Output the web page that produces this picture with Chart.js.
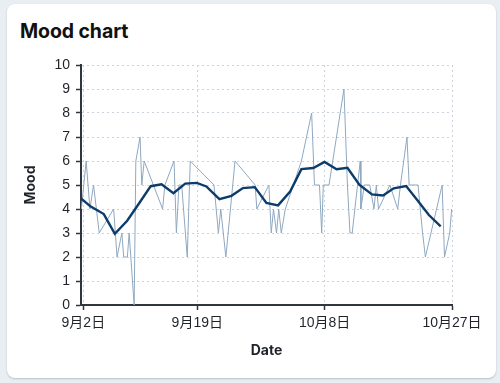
<!DOCTYPE html>
<html>
<head>
<meta charset="utf-8">
<script src="https://cdn.jsdelivr.net/npm/chart.js@4/dist/chart.umd.min.js"></script>
<style>
  html, body { margin: 0; padding: 0; width: 500px; height: 383px; overflow: hidden; background: #e9eef3; }
  .card { position: absolute; left: 7px; top: 4px; width: 489px; height: 374px; background: #fff; border-radius: 8px; box-shadow: 0 1px 2px rgba(60,70,90,0.28); }
  h1 { position: absolute; left: 20px; top: 21px; margin: 0; font: 700 19.5px/20px Inter, "Noto Sans", sans-serif; color: #111; letter-spacing: -0.1px; }
  canvas { position: absolute; left: 0; top: 0; }
</style>
</head>
<body>
<div class="card"></div>
<h1>Mood chart</h1>
<canvas id="c" width="500" height="383"></canvas>
<script>
// x values: days since 2 Sep (fractional = time of day)
const rawDays = [-0.30, 0.42, 0.98, 1.52, 2.37, 4.52, 5.03, 5.75, 6.02, 6.57, 6.83, 7.58, 7.83, 8.46, 8.72, 9.08,
  11.82, 12.17, 13.53, 13.88, 14.27, 14.67, 15.50, 15.95, 19.49, 20.15, 20.50, 21.26, 22.63, 25.63, 25.88,
  27.68, 28.03, 28.37, 28.82, 29.15, 29.53, 30.13, 32.53, 34.06, 34.48, 35.23, 35.56, 35.80, 36.65, 38.88,
  39.40, 39.78, 40.11, 41.31, 41.41, 41.91, 42.73, 43.36, 43.71, 44.04, 45.73, 46.90, 47.31, 48.28, 48.61,
  49.93, 50.61, 51.03, 53.53, 53.88, 54.66, 54.95];
const rawMood = [4, 6, 4, 5, 3, 4, 2, 3, 2, 2, 3, 0, 6, 7, 5, 6,
  4, 5, 6, 3, 5, 5, 2, 6, 5, 3, 4, 2, 6, 5, 4,
  5, 3, 4, 3, 4, 3, 4, 6, 8, 5, 5, 3, 5, 5, 9,
  5, 3, 3, 6, 4, 5, 5, 4, 5, 4, 5, 4, 5, 7, 5,
  5, 3, 2, 5, 2, 3, 4];
const avgDays = [-0.30, 1.05, 3.05, 4.70, 6.54, 8.30, 10.05, 11.67, 13.44, 15.20, 16.92, 18.35, 20.30, 22.10,
  23.80, 25.58, 27.31, 29.05, 30.85, 32.53, 34.30, 35.98, 37.78, 39.40, 41.20, 43.06, 44.71, 46.30,
  48.16, 49.81, 51.55, 53.31];
const avgMood = [4.43, 4.11, 3.79, 2.97, 3.51, 4.23, 4.95, 5.03, 4.66, 5.06, 5.09, 4.94, 4.41, 4.55,
  4.87, 4.91, 4.25, 4.15, 4.73, 5.66, 5.71, 5.96, 5.66, 5.72, 5.00, 4.61, 4.56, 4.86,
  4.96, 4.38, 3.75, 3.28];
const tickDays = [0, 17, 36, 55];
const tickLabels = ['9月2日', '9月19日', '10月8日', '10月27日'];
const yTicks = [0, 1, 2, 3, 4, 5, 6, 7, 8, 9, 10];

const FONT = "'Liberation Sans', Arial, 'Noto Sans CJK JP', sans-serif";
const BOLD = "Inter, 'Noto Sans', sans-serif";
const gridColor = '#c9d2dd';
const axisColor = '#30363f';

new Chart(document.getElementById('c'), {
  type: 'line',
  data: {
    datasets: [
      {
        data: avgDays.map((d, i) => ({ x: d, y: avgMood[i] })),
        borderColor: '#0b3c6b', borderWidth: 2.4, pointRadius: 0, tension: 0, fill: false
      },
      {
        data: rawDays.map((d, i) => ({ x: d, y: rawMood[i] })),
        borderColor: '#8fa8c0', borderWidth: 1, pointRadius: 0, tension: 0, fill: false
      }
    ]
  },
  options: {
    responsive: false,
    animation: false,
    layout: { padding: { left: 18, top: 65, right: 48, bottom: 0 } },
    plugins: { legend: { display: false }, tooltip: { enabled: false }, title: { display: false } },
    scales: {
      x: {
        type: 'linear',
        min: -0.35, max: 55,
        afterBuildTicks: (s) => { s.ticks = tickDays.map(v => ({ value: v })); },
        afterFit: (s) => { s.height = 78; },
        ticks: {
          autoSkip: false, maxRotation: 0, padding: 5, color: '#1f2329',
          font: { family: FONT, size: 14 },
          callback: (v) => { const i = tickDays.indexOf(v); return i >= 0 ? tickLabels[i] : ''; }
        },
        grid: { color: gridColor, lineWidth: 1, tickColor: axisColor, tickLength: 5, tickWidth: 1.5, tickBorderDash: [] },
        border: { display: true, color: axisColor, width: 2, dash: [2, 3] },
        title: { display: true, text: 'Date', color: '#1f2329', font: { family: BOLD, size: 14, weight: '700' }, padding: { top: 4, bottom: 24 } }
      },
      y: {
        min: 0, max: 10,
        afterBuildTicks: (s) => { s.ticks = yTicks.map(v => ({ value: v })); },
        afterFit: (s) => { s.width = 63; },
        ticks: { padding: 6, color: '#1f2329', font: { family: FONT, size: 14 } },
        grid: { color: gridColor, lineWidth: 1, tickColor: axisColor, tickLength: 5, tickWidth: 1.5, tickBorderDash: [] },
        border: { display: true, color: axisColor, width: 2, dash: [2, 3] },
        title: { display: true, text: 'Mood', color: '#1f2329', font: { family: BOLD, size: 14, weight: '700' }, padding: { top: 4, bottom: 4 } }
      }
    }
  }
});
</script>
</body>
</html>
